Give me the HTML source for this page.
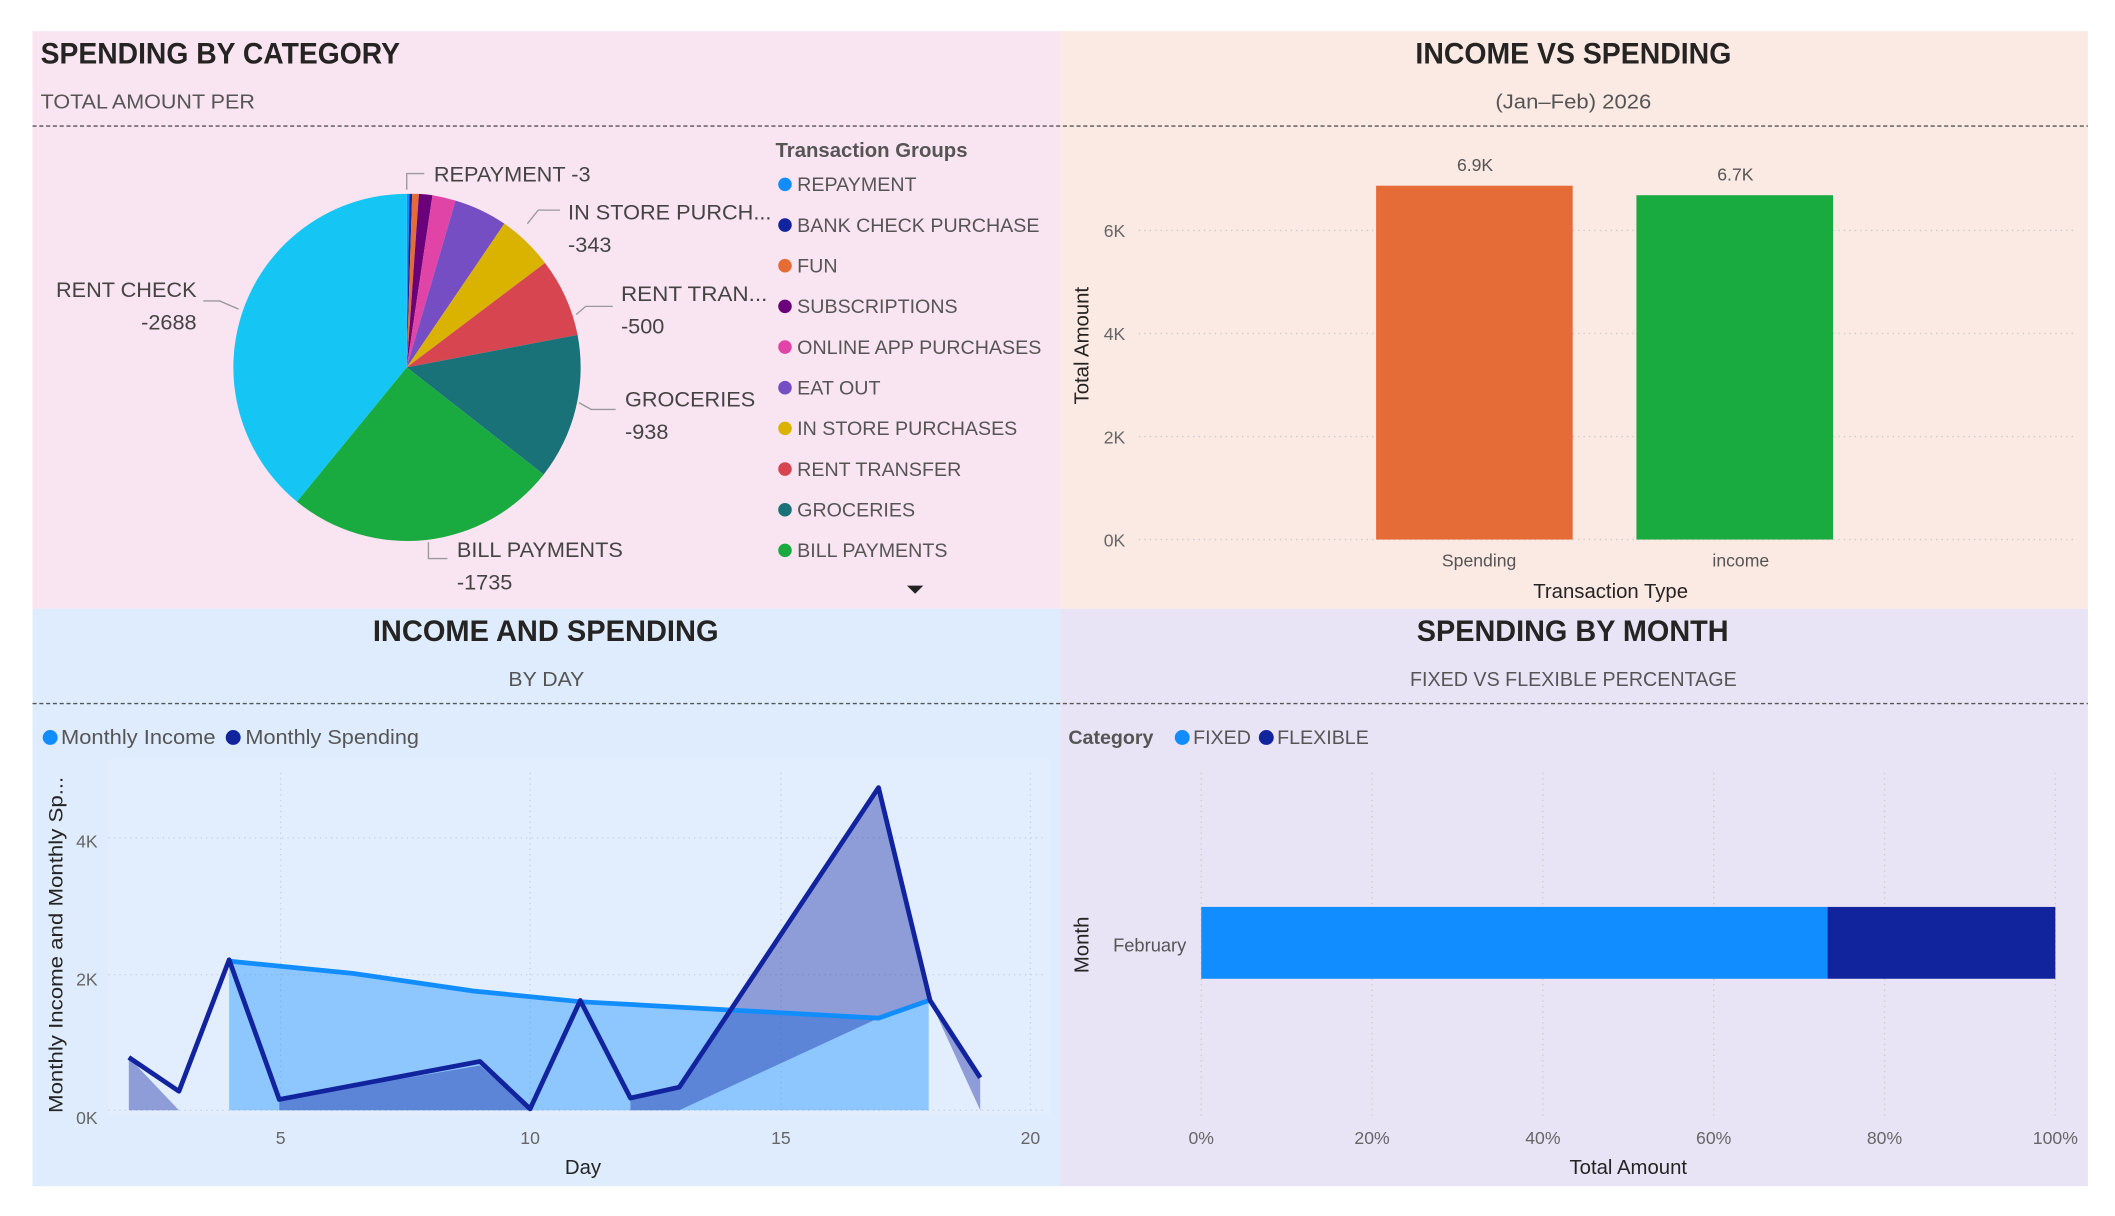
<!DOCTYPE html>
<html><head><meta charset="utf-8"><style>
html,body{margin:0;padding:0;background:#fff;}
svg{display:block;}
text{font-family:"Liberation Sans",sans-serif;}
</style></head><body>
<svg width="2115" height="1216" viewBox="0 0 1560 897" preserveAspectRatio="none" xmlns="http://www.w3.org/2000/svg">
<rect width="1560" height="897" fill="#fff"/>
<rect x="24" y="23" width="758" height="426" fill="#f9e4f1"/>
<rect x="782" y="23" width="758" height="426" fill="#fbe9e3"/>
<rect x="24" y="449" width="758" height="426" fill="#deecfd"/>
<rect x="782" y="449" width="758" height="426" fill="#e9e4f5"/>
<line x1="24" y1="93" x2="1540" y2="93" stroke="#555" stroke-dasharray="3,2" stroke-width="1"/>
<line x1="24" y1="519" x2="1540" y2="519" stroke="#555" stroke-dasharray="3,2" stroke-width="1"/>

<!-- Titles -->
<text x="30" y="47" font-size="22" font-weight="bold" fill="#252423" textLength="265" lengthAdjust="spacingAndGlyphs">SPENDING BY CATEGORY</text>
<text x="30" y="80" font-size="15" fill="#555" textLength="158" lengthAdjust="spacingAndGlyphs">TOTAL AMOUNT PER</text>
<text x="1044" y="47" font-size="22" font-weight="bold" fill="#252423" textLength="233" lengthAdjust="spacingAndGlyphs">INCOME VS SPENDING</text>
<text x="1103" y="80" font-size="15" fill="#555" textLength="115" lengthAdjust="spacingAndGlyphs">(Jan–Feb) 2026</text>
<text x="275" y="473" font-size="22" font-weight="bold" fill="#252423" textLength="255" lengthAdjust="spacingAndGlyphs">INCOME AND SPENDING</text>
<text x="375" y="506" font-size="15" fill="#555" textLength="56" lengthAdjust="spacingAndGlyphs">BY DAY</text>
<text x="1045" y="473" font-size="22" font-weight="bold" fill="#252423" textLength="230" lengthAdjust="spacingAndGlyphs">SPENDING BY MONTH</text>
<text x="1040" y="506" font-size="15" fill="#555" textLength="241" lengthAdjust="spacingAndGlyphs">FIXED VS FLEXIBLE PERCENTAGE</text>

<!-- Pie -->
<g transform="translate(300,271)">
<path d="M0,0 L0,-128 A128,128 0 0 1 2,-128 Z" fill="#118dff"/>
<path d="M0,0 L2,-128 A128,128 0 0 1 4,-128 Z" fill="#12239e"/>
<path d="M0,0 L4,-128 A128,128 0 0 1 9,-128 Z" fill="#e66c37"/>
<path d="M0,0 L9,-128 A128,128 0 0 1 19,-127 Z" fill="#6b007b"/>
<path d="M0,0 L19,-127 A128,128 0 0 1 36,-123 Z" fill="#e044a7"/>
<path d="M0,0 L36,-123 A128,128 0 0 1 72,-106 Z" fill="#744ec2"/>
<path d="M0,0 L72,-106 A128,128 0 0 1 102,-77 Z" fill="#d9b300"/>
<path d="M0,0 L102,-77 A128,128 0 0 1 126,-24 Z" fill="#d64550"/>
<path d="M0,0 L126,-24 A128,128 0 0 1 101,79 Z" fill="#197278"/>
<path d="M0,0 L101,79 A128,128 0 0 1 -81,99 Z" fill="#1aab40"/>
<path d="M0,0 L-81,99 A128,128 0 0 1 0,-128 Z" fill="#15c6f4"/>
</g>
<g stroke="#999" fill="none" stroke-width="1">
<polyline points="300,140 300,128 313,128"/>
<polyline points="389,165 397,155 413,155"/>
<polyline points="425,232 432,226 452,226"/>
<polyline points="427,297 436,302 454,302"/>
<polyline points="316,400 316,412 330,412"/>
<polyline points="150,222 162,222 176,228"/>
</g>
<g font-size="16" fill="#444">
<text x="320" y="134">REPAYMENT -3</text>
<text x="419" y="162" textLength="150" lengthAdjust="spacingAndGlyphs">IN STORE PURCH...</text>
<text x="419" y="186">-343</text>
<text x="458" y="222" textLength="108" lengthAdjust="spacingAndGlyphs">RENT TRAN...</text>
<text x="458" y="246">-500</text>
<text x="461" y="300">GROCERIES</text>
<text x="461" y="324">-938</text>
<text x="337" y="411">BILL PAYMENTS</text>
<text x="337" y="435">-1735</text>
<text x="145" y="219" text-anchor="end">RENT CHECK</text>
<text x="145" y="243" text-anchor="end">-2688</text>
</g>
<!-- Legend -->
<text x="572" y="116" font-size="15" font-weight="bold" fill="#555">Transaction Groups</text>
<g font-size="14.5" fill="#555">
<circle cx="579" cy="136" r="5" fill="#118dff"/><text x="588" y="141">REPAYMENT</text>
<circle cx="579" cy="166" r="5" fill="#12239e"/><text x="588" y="171">BANK CHECK PURCHASE</text>
<circle cx="579" cy="196" r="5" fill="#e66c37"/><text x="588" y="201">FUN</text>
<circle cx="579" cy="226" r="5" fill="#6b007b"/><text x="588" y="231">SUBSCRIPTIONS</text>
<circle cx="579" cy="256" r="5" fill="#e044a7"/><text x="588" y="261">ONLINE APP PURCHASES</text>
<circle cx="579" cy="286" r="5" fill="#744ec2"/><text x="588" y="291">EAT OUT</text>
<circle cx="579" cy="316" r="5" fill="#d9b300"/><text x="588" y="321">IN STORE PURCHASES</text>
<circle cx="579" cy="346" r="5" fill="#d64550"/><text x="588" y="351">RENT TRANSFER</text>
<circle cx="579" cy="376" r="5" fill="#197278"/><text x="588" y="381">GROCERIES</text>
<circle cx="579" cy="406" r="5" fill="#1aab40"/><text x="588" y="411">BILL PAYMENTS</text>
</g>
<path d="M669,432 L681,432 L675,438 Z" fill="#222"/>

<!-- Bar chart top right -->
<g stroke="#ccc" stroke-dasharray="1,3" stroke-width="1">
<line x1="840" y1="170" x2="1530" y2="170"/>
<line x1="840" y1="246" x2="1530" y2="246"/>
<line x1="840" y1="322" x2="1530" y2="322"/>
<line x1="840" y1="398" x2="1530" y2="398"/>
</g>
<g font-size="13" fill="#666" text-anchor="end">
<text x="830" y="175">6K</text><text x="830" y="251">4K</text><text x="830" y="327">2K</text><text x="830" y="403">0K</text>
</g>
<rect x="1015" y="137" width="145" height="261" fill="#e66c37"/>
<rect x="1207" y="144" width="145" height="254" fill="#1aab40"/>
<g font-size="13" fill="#555" text-anchor="middle">
<text x="1088" y="126">6.9K</text><text x="1280" y="133">6.7K</text>
<text x="1091" y="418">Spending</text><text x="1284" y="418">income</text>
</g>
<text x="1188" y="441" font-size="15" fill="#252423" text-anchor="middle">Transaction Type</text>
<text transform="translate(803,255) rotate(-90)" font-size="15" fill="#252423" text-anchor="middle">Total Amount</text>

<!-- Line/area chart bottom left -->
<rect x="80" y="560" width="695" height="262" fill="#e2eefd"/>
<g stroke="#c8d2e0" stroke-dasharray="1,3" stroke-width="1">
<line x1="80" y1="618" x2="770" y2="618"/>
<line x1="80" y1="719" x2="770" y2="719"/>
<line x1="80" y1="819" x2="770" y2="819"/>
<line x1="207" y1="570" x2="207" y2="819"/>
<line x1="391" y1="570" x2="391" y2="819"/>
<line x1="576" y1="570" x2="576" y2="819"/>
<line x1="760" y1="570" x2="760" y2="819"/>
</g>
<polygon points="169,819 169,709 260,718 349,731 429,739 538,745 648,751 685,738 685,819" fill="#118dff" fill-opacity="0.4"/>
<g fill="#12239e" fill-opacity="0.4">
<polygon points="95,819 95,780 132,819"/>
<polygon points="206,819 206,811 354,786 391,819"/>
<polygon points="465,819 465,810 501,802 648,581 686,738 648,751 501,819"/>
<polygon points="686,738 723,795 723,819"/>
</g>
<polyline points="169,709 260,718 349,731 429,739 538,745 648,751 685,738" fill="none" stroke="#118dff" stroke-width="3.5" stroke-linejoin="round"/>
<polyline points="95,780 132,805 169,708 206,811 354,783 391,818 428,738 465,810 501,802 648,581 686,738 723,795" fill="none" stroke="#12239e" stroke-width="3.5" stroke-linejoin="round"/>
<g font-size="13" fill="#666" text-anchor="end">
<text x="72" y="625">4K</text><text x="72" y="727">2K</text><text x="72" y="829">0K</text>
</g>
<g font-size="13" fill="#666" text-anchor="middle">
<text x="207" y="844">5</text><text x="391" y="844">10</text><text x="576" y="844">15</text><text x="760" y="844">20</text>
</g>
<text x="430" y="866" font-size="15" fill="#252423" text-anchor="middle">Day</text>
<text transform="translate(46,697) rotate(-90)" font-size="14.5" fill="#252423" text-anchor="middle" textLength="248" lengthAdjust="spacingAndGlyphs">Monthly Income and Monthly Sp...</text>
<circle cx="37" cy="544" r="5.5" fill="#118dff"/>
<text x="45" y="549" font-size="15" fill="#555" textLength="114" lengthAdjust="spacingAndGlyphs">Monthly Income</text>
<circle cx="172" cy="544" r="5.5" fill="#12239e"/>
<text x="181" y="549" font-size="15" fill="#555" textLength="128" lengthAdjust="spacingAndGlyphs">Monthly Spending</text>

<!-- Bottom right -->
<text x="788" y="549" font-size="14.5" font-weight="bold" fill="#555">Category</text>
<circle cx="872" cy="544" r="5.5" fill="#118dff"/>
<text x="880" y="549" font-size="14.5" fill="#555">FIXED</text>
<circle cx="934" cy="544" r="5.5" fill="#12239e"/>
<text x="942" y="549" font-size="14.5" fill="#555">FLEXIBLE</text>
<g stroke="#ccc" stroke-dasharray="1,3" stroke-width="1">
<line x1="886" y1="570" x2="886" y2="825"/><line x1="1012" y1="570" x2="1012" y2="825"/>
<line x1="1138" y1="570" x2="1138" y2="825"/><line x1="1264" y1="570" x2="1264" y2="825"/>
<line x1="1390" y1="570" x2="1390" y2="825"/><line x1="1516" y1="570" x2="1516" y2="825"/>
</g>
<rect x="886" y="669" width="462" height="53" fill="#118dff"/>
<rect x="1348" y="669" width="168" height="53" fill="#12239e"/>
<text x="875" y="702" font-size="13.5" fill="#555" text-anchor="end">February</text>
<text transform="translate(803,697) rotate(-90)" font-size="15" fill="#252423" text-anchor="middle">Month</text>
<g font-size="13" fill="#666" text-anchor="middle">
<text x="886" y="844">0%</text><text x="1012" y="844">20%</text><text x="1138" y="844">40%</text>
<text x="1264" y="844">60%</text><text x="1390" y="844">80%</text><text x="1516" y="844">100%</text>
</g>
<text x="1201" y="866" font-size="15" fill="#252423" text-anchor="middle">Total Amount</text>
</svg>
</body></html>
